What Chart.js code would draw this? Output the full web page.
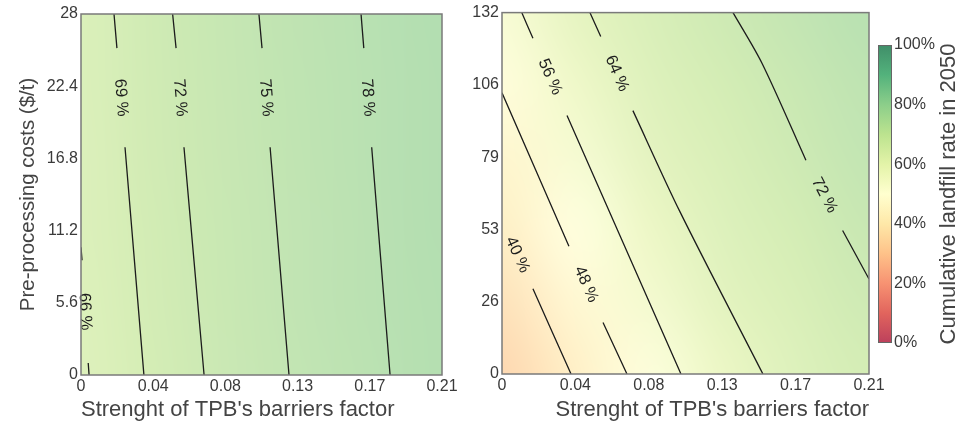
<!DOCTYPE html>
<html>
<head>
<meta charset="utf-8">
<script src="https://cdn.jsdelivr.net/npm/chart.js@4.4.1/dist/chart.umd.min.js"></script>
<style>
  body { margin: 0; background: #fff; }
  #wrap { position: relative; width: 963px; height: 426px; overflow: hidden; }
  canvas { position: absolute; top: 0; }
</style>
</head>
<body>
<div id="wrap">
  <canvas id="leftChart" width="480" height="426" style="left:0"></canvas>
  <canvas id="rightChart" width="466" height="426" style="left:440px"></canvas>
  <canvas id="cbarChart" width="103" height="426" style="left:860px"></canvas>
</div>
<script>
// ---- axes / ticks ----
const xTickValues = [0, 0.042, 0.084, 0.126, 0.168, 0.21];
const xTickLabels = ['0', '0.04', '0.08', '0.13', '0.17', '0.21'];
const leftYValues = [0, 5.6, 11.2, 16.8, 22.4, 28];
const leftYLabels = ['0', '5.6', '11.2', '16.8', '22.4', '28'];
const rightYValues = [0, 26.4, 52.8, 79.2, 105.6, 132];
const rightYLabels = ['0', '26', '53', '79', '106', '132'];
const cbarTicks = [0, 20, 40, 60, 80, 100];

// ---- landfill rate (%) read on the grid of tick positions, rows from y=0 upward ----
const leftRates = [
  [65.6, 69.5, 72.8, 75.3, 77.4, 79.4],
  [65.8, 69.8, 73.0, 75.4, 77.6, 79.6],
  [66.1, 70.1, 73.2, 75.6, 77.8, 79.7],
  [66.3, 70.4, 73.4, 75.8, 77.9, 79.9],
  [66.6, 70.7, 73.6, 76.0, 78.1, 80.0],
  [66.8, 71.0, 73.8, 76.1, 78.2, 80.2]
];
const rightRates = [
  [30.1, 40.6, 51.2, 60.0, 65.7, 69.4],
  [34.7, 45.3, 55.9, 63.6, 67.6, 71.4],
  [39.8, 50.0, 59.5, 65.7, 69.5, 73.3],
  [44.0, 54.6, 63.3, 67.6, 71.5, 75.1],
  [48.5, 58.6, 65.4, 69.4, 73.1, 76.4],
  [53.7, 62.3, 67.3, 71.4, 74.9, 78.2]
];

// ---- contour lines (null = gap where the label sits) ----
const levelsLeft = ['66 %', '69 %', '72 %', '75 %', '78 %'];
const c66X = [0, 0.0006, null, 0.0042, 0.0047];
const c66Y = [9.9, 8.9, null, 0.93, 0];
const c69X = [0.0192, 0.0209, null, 0.0256, 0.0366];
const c72X = [0.0533, 0.0553, null, 0.0599, 0.0716];
const c75X = [0.1035, 0.1053, null, 0.1100, 0.1210];
const c78X = [0.1629, 0.1645, null, 0.1691, 0.1798];
const cLeftY = [28, 25.35, null, 17.67, 0];

const levelsRight = ['40 %', '48 %', '56 %', '64 %', '72 %'];
const r40X = [0, null, 0.0177, 0.0395];
const r40Y = [56, null, 31.1, 0];
const r48X = [0, 0.0383, null, 0.0578, 0.0715];
const r48Y = [102.7, 46.7, null, 18.8, 0];
const r56X = [0.0113, 0.0177, null, 0.0372, 0.1024];
const r56Y = [132, 122.6, null, 94.4, 0];
const r64X = [0.0503, 0.0565, null, 0.0749, 0.1018, 0.1493];
const r64Y = [132, 123.3, null, 96.2, 59.3, 0];
const r72X = [0.1322, 0.1487, 0.1739, null, 0.1949, 0.21];
const r72Y = [132, 113.6, 78.1, null, 52.4, 34.7];

// RdYlGn
const rdylgn = ['#a50026', '#d73027', '#f46d43', '#fdae61', '#fee08b', '#ffffbf',
                '#d9ef8b', '#a6d96a', '#66bd63', '#1a9850', '#006837'];

Chart.defaults.font.family = "'Liberation Sans', Arial, sans-serif";
Chart.defaults.color = '#3a3a3a';

function hexRgb(h) {
  return [parseInt(h.slice(1, 3), 16), parseInt(h.slice(3, 5), 16), parseInt(h.slice(5, 7), 16)];
}
// colour for a rate, blended over white with alpha
function rateColor(pct, alpha) {
  const t = Math.min(Math.max(pct / 100, 0), 1) * 10;
  const i = Math.min(Math.floor(t), 9), f = t - i;
  const a = hexRgb(rdylgn[i]), b = hexRgb(rdylgn[i + 1]);
  return a.map((v, k) => Math.round(255 + (v + (b[k] - v) * f - 255) * alpha));
}

function toPoints(xs, ys) {
  return xs.map((x, i) => ({ x: x, y: ys[i] }));
}

function contourSet(label, xs, ys) {
  return {
    label: label,
    data: toPoints(xs, ys),
    borderColor: '#1c1c1c',
    borderWidth: 1.3,
    pointRadius: 0,
    fill: false,
    spanGaps: false,
    tension: 0.3
  };
}

// background field drawn through the scales
function heatmapPlugin(grid, xs, ys) {
  return {
    id: 'heatmap',
    beforeDatasetsDraw(chart) {
      const ctx = chart.ctx, sx = chart.scales.x, sy = chart.scales.y;
      const rows = grid.length, cols = grid[0].length;
      const off = document.createElement('canvas');
      off.width = cols; off.height = rows;
      const octx = off.getContext('2d');
      const img = octx.createImageData(cols, rows);
      grid.forEach((row, r) => {
        row.forEach((v, c) => {
          const col = rateColor(v, 0.5);
          const i = ((rows - 1 - r) * cols + c) * 4;
          img.data[i] = col[0]; img.data[i + 1] = col[1]; img.data[i + 2] = col[2]; img.data[i + 3] = 255;
        });
      });
      octx.putImageData(img, 0, 0);
      const x0 = sx.getPixelForValue(xs[0]), x1 = sx.getPixelForValue(xs[cols - 1]);
      const y0 = sy.getPixelForValue(ys[rows - 1]), y1 = sy.getPixelForValue(ys[0]);
      ctx.save();
      ctx.imageSmoothingEnabled = true;
      ctx.imageSmoothingQuality = 'high';
      ctx.drawImage(off, 0.5, 0.5, cols - 1, rows - 1, x0, y0, x1 - x0, y1 - y0);
      ctx.restore();
    }
  };
}

// labels in the line gaps + frame
const contourLabels = {
  id: 'contourLabels',
  afterDatasetsDraw(chart) {
    const ctx = chart.ctx;
    chart.data.datasets.forEach((ds, di) => {
      const meta = chart.getDatasetMeta(di);
      const g = ds.data.findIndex(p => p.x === null);
      if (g < 1) return;
      const p1 = meta.data[g - 1], p2 = meta.data[g + 1];
      const cx = (p1.x + p2.x) / 2, cy = (p1.y + p2.y) / 2;
      let ang = Math.atan2(p2.y - p1.y, p2.x - p1.x);
      if (ang > Math.PI / 2) ang -= Math.PI;
      if (ang < -Math.PI / 2) ang += Math.PI;
      ctx.save();
      ctx.translate(cx, cy);
      ctx.rotate(ang);
      ctx.font = "16.5px 'Liberation Sans', Arial, sans-serif";
      ctx.fillStyle = '#1e1e1e';
      ctx.textAlign = 'center';
      ctx.textBaseline = 'middle';
      ctx.fillText(ds.label, 0, 0);
      ctx.restore();
    });
    const a = chart.chartArea;
    ctx.save();
    ctx.strokeStyle = '#7a7a7a';
    ctx.lineWidth = 1.5;
    ctx.strokeRect(a.left, a.top, a.right - a.left, a.bottom - a.top);
    ctx.restore();
  }
};

function fixedTicks(values) {
  return axis => { axis.ticks = values.map(v => ({ value: v })); };
}

function panelOptions(yValues, yLabels, yMax, yTitle, pad, yWidth, xHeight, titleAlign) {
  return {
    responsive: false,
    animation: false,
    layout: { padding: pad },
    plugins: { legend: { display: false }, tooltip: { enabled: false } },
    scales: {
      x: {
        type: 'linear', min: 0, max: 0.21,
        grid: { display: false, drawTicks: false },
        border: { display: false },
        afterBuildTicks: fixedTicks(xTickValues),
        afterFit: s => { s.height = xHeight; },
        ticks: { autoSkip: false, maxRotation: 0, padding: 2, font: { size: 16 },
                 callback: (v, i) => xTickLabels[i] },
        title: { display: true, text: "Strenght of TPB's barriers factor", align: titleAlign,
                 font: { size: 22 }, color: '#444', padding: { top: 0, bottom: 3 } }
      },
      y: {
        type: 'linear', min: 0, max: yMax,
        grid: { display: false, drawTicks: false },
        border: { display: false },
        afterBuildTicks: fixedTicks(yValues),
        afterFit: s => { s.width = yWidth; },
        ticks: { autoSkip: false, padding: 3, font: { size: 16 },
                 callback: (v, i) => yLabels[i] },
        title: { display: !!yTitle, text: yTitle || '', font: { size: 20.5 }, color: '#444',
                 padding: { top: 16, bottom: 0 } }
      }
    }
  };
}

// Left panel
new Chart(document.getElementById('leftChart'), {
  type: 'line',
  data: {
    datasets: [
      contourSet(levelsLeft[0], c66X, c66Y),
      contourSet(levelsLeft[1], c69X, cLeftY),
      contourSet(levelsLeft[2], c72X, cLeftY),
      contourSet(levelsLeft[3], c75X, cLeftY),
      contourSet(levelsLeft[4], c78X, cLeftY)
    ]
  },
  options: panelOptions(leftYValues, leftYLabels, 28, 'Pre-processing costs ($/t)',
    { left: 0, top: 14, right: 38, bottom: 0 }, 81, 51, 'start'),
  plugins: [heatmapPlugin(leftRates, xTickValues, leftYValues), contourLabels]
});

// Right panel (title sits a little right of centre; right padding widened so 'end' lands at ~875)
new Chart(document.getElementById('rightChart'), {
  type: 'line',
  data: {
    datasets: [
      contourSet(levelsRight[0], r40X, r40Y),
      contourSet(levelsRight[1], r48X, r48Y),
      contourSet(levelsRight[2], r56X, r56Y),
      contourSet(levelsRight[3], r64X, r64Y),
      contourSet(levelsRight[4], r72X, r72Y)
    ]
  },
  options: panelOptions(rightYValues, rightYLabels, 132, null,
    { left: 0, top: 9, right: 37, bottom: 0 }, 62, 52, 'end'),
  plugins: [heatmapPlugin(rightRates, xTickValues, rightYValues), contourLabels]
});

// Colour bar
const cbarPlugin = {
  id: 'cbar',
  beforeDatasetsDraw(chart) {
    const ctx = chart.ctx, a = chart.chartArea, sy = chart.scales.y;
    const y0 = sy.getPixelForValue(0), y1 = sy.getPixelForValue(100);
    const grad = ctx.createLinearGradient(0, y0, 0, y1);
    rdylgn.forEach((c, i) => {
      const col = rateColor(i * 10, 0.75);
      grad.addColorStop(i / 10, 'rgb(' + col.join(',') + ')');
    });
    ctx.save();
    ctx.fillStyle = grad;
    ctx.fillRect(a.left, y1, a.right - a.left, y0 - y1);
    ctx.strokeStyle = '#666';
    ctx.lineWidth = 1;
    ctx.strokeRect(a.left + 0.5, y1 + 0.5, a.right - a.left - 1, y0 - y1 - 1);
    ctx.translate(89, (y0 + y1) / 2);
    ctx.rotate(-Math.PI / 2);
    ctx.font = "22px 'Liberation Sans', Arial, sans-serif";
    ctx.fillStyle = '#444';
    ctx.textAlign = 'center';
    ctx.textBaseline = 'middle';
    ctx.fillText('Cumulative landfill rate in 2050', 0, 0);
    ctx.restore();
  }
};
new Chart(document.getElementById('cbarChart'), {
  type: 'scatter',
  data: { datasets: [] },
  options: {
    responsive: false,
    animation: false,
    layout: { padding: { left: 18, top: 45, right: 0, bottom: 83 } },
    plugins: { legend: { display: false }, tooltip: { enabled: false } },
    scales: {
      x: { display: false, min: 0, max: 1 },
      y: {
        position: 'right', min: 0, max: 100,
        grid: { display: false, drawTicks: false },
        border: { display: false },
        afterBuildTicks: fixedTicks(cbarTicks),
        afterFit: s => { s.width = 71; },
        ticks: { padding: 2, font: { size: 16 }, callback: v => v + '%' }
      }
    }
  },
  plugins: [cbarPlugin]
});
</script>
</body>
</html>
